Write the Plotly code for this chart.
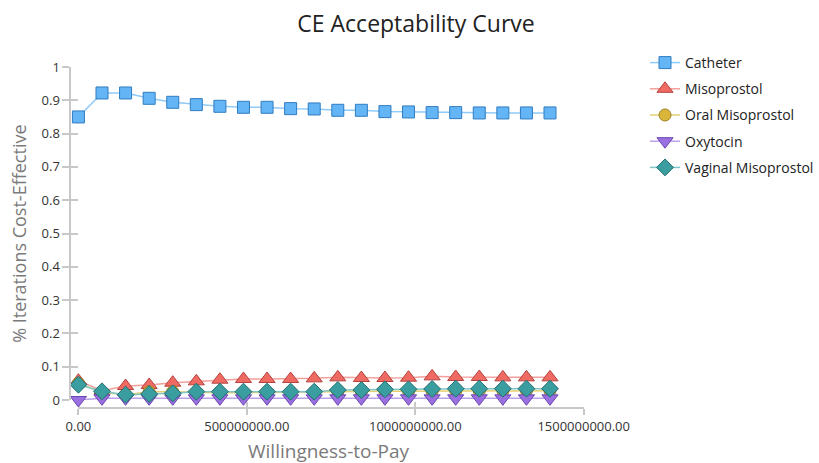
import plotly.graph_objects as go

W, H = 819, 463

wtp = [0, 70000000, 140000000, 210000000, 280000000, 350000000, 420000000,
       490000000, 560000000, 630000000, 700000000, 770000000, 840000000,
       910000000, 980000000, 1050000000, 1120000000, 1190000000, 1260000000,
       1330000000, 1400000000]

catheter = [0.850, 0.922, 0.922, 0.906, 0.894, 0.887, 0.882, 0.879, 0.879, 0.875, 0.874,
            0.870, 0.870, 0.866, 0.865, 0.863, 0.863, 0.862, 0.862, 0.862, 0.862]
misoprostol = [0.058, 0.028, 0.042, 0.045, 0.052, 0.056, 0.061, 0.063, 0.063, 0.063, 0.065,
               0.068, 0.066, 0.066, 0.067, 0.071, 0.069, 0.069, 0.068, 0.068, 0.068]
oral_miso = [0.050, 0.023, 0.016, 0.025, 0.025, 0.023, 0.022, 0.022, 0.023, 0.024, 0.024,
             0.025, 0.025, 0.026, 0.026, 0.026, 0.027, 0.027, 0.028, 0.028, 0.028]
oxytocin = [0.000, 0.005, 0.005, 0.005, 0.005, 0.005, 0.005, 0.005, 0.005, 0.005, 0.005,
            0.005, 0.005, 0.005, 0.005, 0.005, 0.005, 0.005, 0.005, 0.005, 0.005]
vaginal_miso = [0.046, 0.026, 0.016, 0.018, 0.020, 0.025, 0.025, 0.025, 0.025, 0.025, 0.025,
                0.030, 0.030, 0.032, 0.032, 0.033, 0.034, 0.034, 0.034, 0.034, 0.034]

series = [
    ("Catheter", catheter, "square", 12, "#64B5F6", "#2F7CC0", "#90CAF9"),
    ("Misoprostol", misoprostol, "triangle-up", 14, "#EE6A62", "#B5423D", "#F3A09B"),
    ("Oral Misoprostol", oral_miso, "circle", 12, "#D9B53A", "#A08320", "#E6CF70"),
    ("Oxytocin", oxytocin, "triangle-down", 14, "#9A70E0", "#6A45B0", "#BCA2EA"),
    ("Vaginal Misoprostol", vaginal_miso, "diamond", 13, "#3A9EA0", "#206E70", "#80C8C6"),
]

fig = go.Figure()
for name, vals, sym, size, fill, edge, line in series:
    fig.add_trace(go.Scatter(
        x=wtp, y=vals, name=name, mode="lines+markers", legendgroup=name,
        cliponaxis=False,
        line=dict(color=line, width=1.5),
        marker=dict(symbol=sym, size=size, color=fill, line=dict(color=edge, width=1)),
    ))

def px_x(p):
    return p / W

def px_y(p):
    return (H - p) / H

axis_col = "#C8C8C8"
FONT = "Open Sans, Noto Sans, sans-serif"
tick_font = dict(family=FONT, size=13, color="#333333")
yticks = [0, 0.1, 0.2, 0.3, 0.4, 0.5, 0.6, 0.7, 0.8, 0.9, 1]
xticks = [0, 500000000, 1000000000, 1500000000]
XDOM = [px_x(79), px_x(588)]

fig.update_layout(
    width=W, height=H,
    margin=dict(l=0, r=0, t=0, b=0),
    paper_bgcolor="white", plot_bgcolor="white",
    showlegend=True,
    title=dict(text="CE Acceptability Curve", x=416 / W, xanchor="center",
               y=px_y(24), yanchor="middle", yref="paper",
               font=dict(family=FONT, size=23, color="#222222")),
    legend=dict(x=px_x(650), y=px_y(47), xanchor="left", yanchor="top",
                font=dict(family=FONT, size=14, color="#222222"),
                tracegroupgap=5, bgcolor="rgba(0,0,0,0)"),
    xaxis=dict(domain=XDOM, range=[0, 1500000000],
               tickvals=xticks, tickformat=".2f",
               anchor="free", position=px_y(408), showgrid=False, zeroline=False,
               showline=True, linecolor=axis_col, linewidth=2,
               ticks="outside", ticklen=6, tickcolor=axis_col, tickwidth=1.5,
               tickfont=tick_font, automargin=False),
    yaxis=dict(domain=[px_y(400), px_y(67)], range=[0, 1],
               tickvals=yticks,
               anchor="free", position=px_x(71), showgrid=False, zeroline=False,
               showline=True, linecolor=axis_col, linewidth=2,
               ticks="outside", ticklen=7, tickcolor=axis_col, tickwidth=1.5,
               tickfont=tick_font, automargin=False),
    xaxis2=dict(domain=XDOM, range=[0, 1500000000], overlaying="x",
                tickvals=xticks, showticklabels=False,
                anchor="free", position=px_y(408), showgrid=False, zeroline=False,
                showline=False, ticks="inside", ticklen=6, tickcolor=axis_col, tickwidth=1.5),
    yaxis2=dict(domain=[px_y(400), px_y(67)], range=[0, 1], overlaying="y",
                tickvals=yticks,
                showticklabels=False, anchor="free", position=px_x(71),
                showgrid=False, zeroline=False, showline=False,
                ticks="inside", ticklen=7, tickcolor=axis_col, tickwidth=1.5),
    annotations=[
        dict(text="Willingness-to-Pay", x=331 / W, y=px_y(451), xref="paper", yref="paper",
             xanchor="center", yanchor="middle", showarrow=False,
             font=dict(family=FONT, size=19, color="#7A7A7A")),
        dict(text="% Iterations Cost-Effective", x=px_x(19), y=px_y(234), xref="paper", yref="paper",
             xanchor="center", yanchor="middle", showarrow=False, textangle=-90,
             font=dict(family=FONT, size=18, color="#7A7A7A")),
    ],
)

# invisible helper trace to activate the secondary axes for crossing tick marks
fig.add_trace(go.Scatter(x=[0], y=[0], xaxis="x2", yaxis="y2", mode="markers",
                         marker=dict(opacity=0), showlegend=False, hoverinfo="skip"))

fig.write_html("out.html", config={"displayModeBar": False},
               post_script="document.body.style.margin='0';document.body.style.padding='0';")
